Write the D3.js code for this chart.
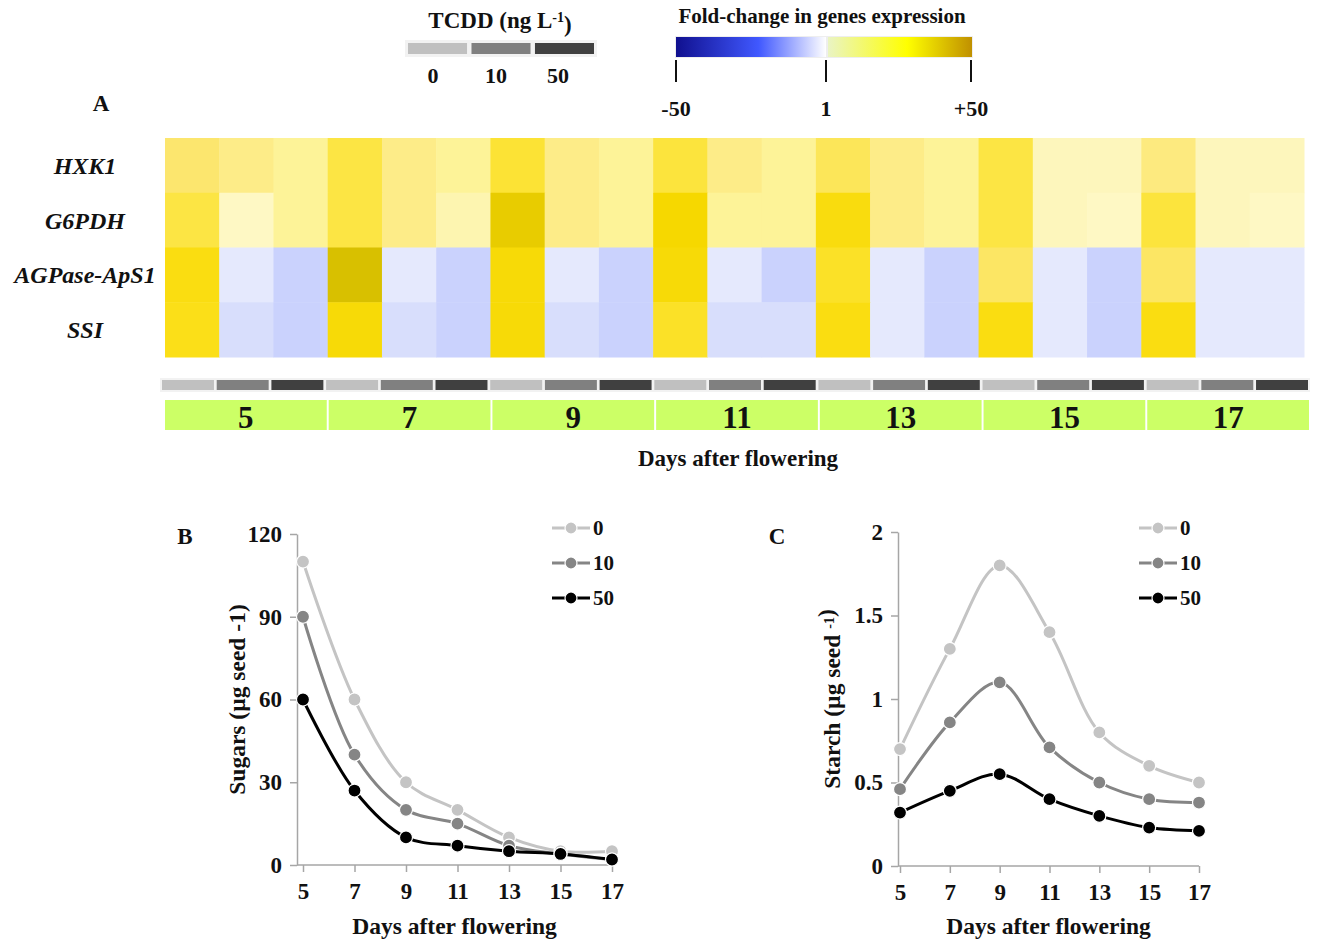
<!DOCTYPE html>
<html>
<head>
<meta charset="utf-8">
<script src="https://cdn.jsdelivr.net/npm/d3@7"></script>
<style>
  body { margin: 0; background: #fff; }
  text { font-family: "Liberation Serif", "Times New Roman", serif; font-weight: bold; fill: #111; }
</style>
</head>
<body>
<svg id="fig" width="1318" height="942"></svg>
<script>
//
// Data
//

const days = [5, 7, 9, 11, 13, 15, 17];
const doses = ["0", "10", "50"];
const genes = ["HXK1", "G6PDH", "AGPase-ApS1", "SSI"];

// fold-change per column (day x dose)
const foldHXK1 = [15, 12, 9, 19, 12, 9, 21, 12, 9, 20, 12, 9, 17, 12, 9, 19, 6, 6, 13, 6, 6];
const foldG6PDH = [19, 4, 9, 19, 12, 7, 40, 12, 9, 32, 9, 9, 28, 12, 9, 19, 6, 4, 20, 6, 4];
const foldAGPase = [27, -2, -8, 46, -2, -8, 30, -2, -8, 30, -2, -8, 23, -2, -8, 16, -2, -8, 16, -2, -2];
const foldSSI = [25, -5, -8, 30, -5, -8, 30, -5, -8, 23, -5, -5, 27, -2, -8, 27, -2, -8, 27, -2, -2];

// B: sugars (ug/seed)
const sugars0 = [110, 60, 30, 20, 10, 5, 5];
const sugars10 = [90, 40, 20, 15, 7, 4, 2];
const sugars50 = [60, 27, 10, 7, 5, 4, 2];
const sugarTicks = [0, 30, 60, 90, 120];

// C: starch (ug/seed)
const starch0 = [0.7, 1.3, 1.8, 1.4, 0.8, 0.6, 0.5];
const starch10 = [0.46, 0.86, 1.1, 0.71, 0.5, 0.4, 0.38];
const starch50 = [0.32, 0.45, 0.55, 0.4, 0.3, 0.23, 0.21];
const starchTicks = [0, 0.5, 1, 1.5, 2];

const foldTicks = [-50, 1, 50];
const foldTickLabels = ["-50", "1", "+50"];

//
// Styles
//

const doseColor = { "0": "#c0c0c0", "10": "#808080", "50": "#404040" };
const lineColor = { "0": "#c4c4c4", "10": "#858585", "50": "#000000" };
const axisColor = "#a6a6a6";
const dayBoxColor = "#ccff66";

// colour lookup for the cells
const heat = d3.scaleLinear()
  .domain([-50, -25, -12, -8, -5, -2, 1, 1.01, 4, 6, 9, 12, 15, 19, 25, 32, 40, 46, 50])
  .range(["#10108f", "#4058ff", "#b8c4fe", "#cad2fd", "#d8defc", "#e5e9fd", "#ffffff",
          "#fefde8", "#fef8c4", "#fdf6bc", "#fdf398", "#fdec88", "#fce66e", "#fce544",
          "#fbdf18", "#f6d800", "#e8cc00", "#d8c000", "#c09000"])
  .interpolate(d3.interpolateRgb);

const svg = d3.select("#fig");

//
// Panel A: heatmap
//

const columns = [];
days.forEach(d => doses.forEach(s => columns.push(d + "-" + s)));
const foldRows = [foldHXK1, foldG6PDH, foldAGPase, foldSSI];

const colX = d3.scaleBand().domain(columns).range([165, 1304]);
const rowY = d3.scaleBand().domain(genes).range([138, 357]);

const cells = [];
genes.forEach((g, i) => foldRows[i].forEach((v, j) => cells.push({ gene: g, col: columns[j], value: v })));

svg.append("g").selectAll("rect")
  .data(cells)
  .join("rect")
  .attr("x", d => colX(d.col))
  .attr("y", d => rowY(d.gene))
  .attr("width", colX.bandwidth() + 0.5)
  .attr("height", rowY.bandwidth() + 0.5)
  .attr("fill", d => heat(d.value));

svg.append("g").selectAll("text")
  .data(genes)
  .join("text")
  .attr("x", 85)
  .attr("y", d => rowY(d) + rowY.bandwidth() / 2)
  .attr("dy", "0.35em")
  .attr("text-anchor", "middle")
  .style("font-style", "italic")
  .style("font-size", "24px")
  .text(d => d);

// dose strip
const doseX = d3.scaleBand().domain(columns).range([162, 1308]).paddingInner(0.05);
svg.append("rect").attr("x", 160).attr("y", 378).attr("width", 1150).attr("height", 14).attr("fill", "#f2f2f2");
svg.append("g").selectAll("rect")
  .data(columns)
  .join("rect")
  .attr("x", d => doseX(d))
  .attr("y", 380)
  .attr("width", doseX.bandwidth())
  .attr("height", 10)
  .attr("fill", d => doseColor[d.split("-")[1]]);

// day boxes
const dayX = d3.scaleBand().domain(days).range([165, 1309]).paddingInner(0.012);
const dayG = svg.append("g").selectAll("g")
  .data(days)
  .join("g");
dayG.append("rect")
  .attr("x", d => dayX(d))
  .attr("y", 400)
  .attr("width", dayX.bandwidth())
  .attr("height", 30)
  .attr("fill", dayBoxColor);
dayG.append("text")
  .attr("x", d => dayX(d) + dayX.bandwidth() / 2)
  .attr("y", 417)
  .attr("dy", "0.35em")
  .attr("text-anchor", "middle")
  .style("font-size", "31px")
  .text(d => d);

svg.append("text").attr("x", 738).attr("y", 458).attr("dy", "0.35em").attr("text-anchor", "middle")
  .style("font-size", "23px").text("Days after flowering");

svg.append("text").attr("x", 101).attr("y", 103).attr("dy", "0.35em").attr("text-anchor", "middle")
  .style("font-size", "23px").text("A");

//
// Legends for A
//

const tcdd = svg.append("text").attr("x", 500).attr("y", 20).attr("dy", "0.35em")
  .attr("text-anchor", "middle").style("font-size", "23px");
tcdd.append("tspan").text("TCDD (ng L");
tcdd.append("tspan").attr("dy", "-0.45em").style("font-size", "14px").text("-1");
tcdd.append("tspan").attr("dy", "0.45em").text(")");

const legX = d3.scaleBand().domain(doses).range([408, 594]).paddingInner(0.07);
svg.append("rect").attr("x", 405).attr("y", 40).attr("width", 192).attr("height", 17).attr("fill", "#f2f2f2");
svg.append("g").selectAll("rect")
  .data(doses)
  .join("rect")
  .attr("x", d => legX(d))
  .attr("y", 43)
  .attr("width", legX.bandwidth())
  .attr("height", 11)
  .attr("fill", d => doseColor[d]);
svg.append("g").selectAll("text")
  .data(doses)
  .join("text")
  .attr("x", (d, i) => [433, 496, 558][i])
  .attr("y", 75)
  .attr("dy", "0.35em")
  .attr("text-anchor", "middle")
  .style("font-size", "22px")
  .text(d => d);

svg.append("text").attr("x", 822).attr("y", 16).attr("dy", "0.35em").attr("text-anchor", "middle")
  .style("font-size", "21px").text("Fold-change in  genes expression");

const defs = svg.append("defs");
const gBlue = defs.append("linearGradient").attr("id", "gBlue");
[["0%", "#10108f"], ["55%", "#4058ff"], ["100%", "#ffffff"]]
  .forEach(s => gBlue.append("stop").attr("offset", s[0]).attr("stop-color", s[1]));
const gYel = defs.append("linearGradient").attr("id", "gYel");
[["0%", "#eaf4c4"], ["55%", "#ffff00"], ["100%", "#c09000"]]
  .forEach(s => gYel.append("stop").attr("offset", s[0]).attr("stop-color", s[1]));

const foldX = d3.scaleLinear().domain([-50, 1, 50]).range([676, 826, 971]);
svg.append("rect").attr("x", 675).attr("y", 36).attr("width", 298).attr("height", 22).attr("fill", "#eeeeee");
svg.append("rect").attr("x", foldX(-50)).attr("y", 37).attr("width", foldX(1) - foldX(-50)).attr("height", 20).attr("fill", "url(#gBlue)");
svg.append("rect").attr("x", foldX(1) + 2).attr("y", 37).attr("width", foldX(50) - foldX(1) - 1).attr("height", 20).attr("fill", "url(#gYel)");
svg.append("g").selectAll("line")
  .data(foldTicks)
  .join("line")
  .attr("x1", d => foldX(d)).attr("x2", d => foldX(d))
  .attr("y1", 60).attr("y2", 82)
  .attr("stroke", "#111").attr("stroke-width", 2);
svg.append("g").selectAll("text")
  .data(foldTicks)
  .join("text")
  .attr("x", d => foldX(d))
  .attr("y", 108)
  .attr("dy", "0.35em")
  .attr("text-anchor", "middle")
  .style("font-size", "22px")
  .text((d, i) => foldTickLabels[i]);

//
// Panels B and C: line charts
//

function lineChart(cfg) {
  const x = d3.scaleLinear().domain([5, 17]).range([cfg.x0, cfg.x1]);
  const y = d3.scaleLinear().domain([0, cfg.yMax]).range([cfg.yBottom, cfg.yTop]);
  const g = svg.append("g");

  // y axis
  const ya = g.append("g")
    .attr("transform", "translate(" + cfg.axisX + ",0)")
    .call(d3.axisLeft(y).tickValues(cfg.ticks).tickSize(7).tickSizeOuter(0).tickPadding(8).tickFormat(d3.format("")));
  ya.select(".domain").attr("stroke", axisColor).attr("stroke-width", 1.5);
  ya.selectAll(".tick line").attr("stroke", axisColor).attr("stroke-width", 1.5);
  ya.selectAll(".tick text").style("font-size", "23px").style("font-family", "Liberation Serif").attr("fill", "#111");

  // x axis
  const xa = g.append("g")
    .attr("transform", "translate(0," + cfg.yBottom + ")")
    .call(d3.axisBottom(x).tickValues(days).tickSize(7).tickSizeOuter(0).tickPadding(11));
  xa.select(".domain").remove();
  xa.append("line").attr("x1", cfg.axisX).attr("x2", cfg.x1).attr("stroke", axisColor).attr("stroke-width", 1.5);
  xa.selectAll(".tick line").attr("stroke", axisColor).attr("stroke-width", 1.5);
  xa.selectAll(".tick text").style("font-size", "23px").style("font-family", "Liberation Serif").attr("fill", "#111");

  const line = d3.line()
    .x((d, i) => x(days[i]))
    .y(d => y(d))
    .curve(d3.curveCatmullRom.alpha(0.5));

  cfg.series.forEach(s => {
    g.append("path")
      .attr("d", line(s.values))
      .attr("fill", "none")
      .attr("stroke", lineColor[s.dose])
      .attr("stroke-width", 3);
  });
  cfg.series.forEach(s => {
    g.append("g").selectAll("circle")
      .data(s.values)
      .join("circle")
      .attr("cx", (d, i) => x(days[i]))
      .attr("cy", d => y(d))
      .attr("r", 6.5)
      .attr("fill", lineColor[s.dose])
      .attr("stroke", "#fff")
      .attr("stroke-width", 1.2);
  });

  // legend
  cfg.series.forEach((s, i) => {
    const ly = cfg.legY + i * 35;
    g.append("line").attr("x1", cfg.legX).attr("x2", cfg.legX + 38).attr("y1", ly).attr("y2", ly)
      .attr("stroke", lineColor[s.dose]).attr("stroke-width", 3);
    g.append("circle").attr("cx", cfg.legX + 19).attr("cy", ly).attr("r", 6)
      .attr("fill", lineColor[s.dose]).attr("stroke", "#fff").attr("stroke-width", 1.2);
    g.append("text").attr("x", cfg.legX + 41).attr("y", ly).attr("dy", "0.35em")
      .style("font-size", "21px").text(s.dose);
  });

  g.append("text").attr("x", cfg.letterX).attr("y", 536).attr("dy", "0.35em").attr("text-anchor", "middle")
    .style("font-size", "23px").text(cfg.letter);
  g.append("text").attr("x", (cfg.axisX + cfg.x1) / 2).attr("y", 926).attr("dy", "0.35em")
    .attr("text-anchor", "middle").style("font-size", "23.5px").text("Days after flowering");

  const yl = g.append("text")
    .attr("transform", "translate(" + cfg.labelX + "," + (cfg.yTop + cfg.yBottom) / 2 + ") rotate(-90)")
    .attr("dy", "0.35em").attr("text-anchor", "middle").style("font-size", "23.5px");
  cfg.label.forEach(part => {
    if (part.sup) {
      yl.append("tspan").attr("dy", "-0.45em").style("font-size", "14px").text(part.text);
      yl.append("tspan").attr("dy", "0.45em").text("");
    } else {
      yl.append("tspan").text(part.text);
    }
  });
}

lineChart({
  letter: "B", letterX: 185,
  axisX: 297, x0: 303, x1: 612,
  yTop: 534, yBottom: 865, yMax: 120, ticks: sugarTicks,
  labelX: 237,
  label: [{ text: "Sugars (\u00b5g seed -1)" }],
  legX: 552, legY: 528,
  series: [{ dose: "0", values: sugars0 }, { dose: "10", values: sugars10 }, { dose: "50", values: sugars50 }]
});

lineChart({
  letter: "C", letterX: 777,
  axisX: 898, x0: 900, x1: 1199,
  yTop: 532, yBottom: 866, yMax: 2, ticks: starchTicks,
  labelX: 832,
  label: [{ text: "Starch (\u00b5g seed " }, { text: "-1", sup: true }, { text: ")" }],
  legX: 1139, legY: 528,
  series: [{ dose: "0", values: starch0 }, { dose: "10", values: starch10 }, { dose: "50", values: starch50 }]
});
</script>
</body>
</html>
